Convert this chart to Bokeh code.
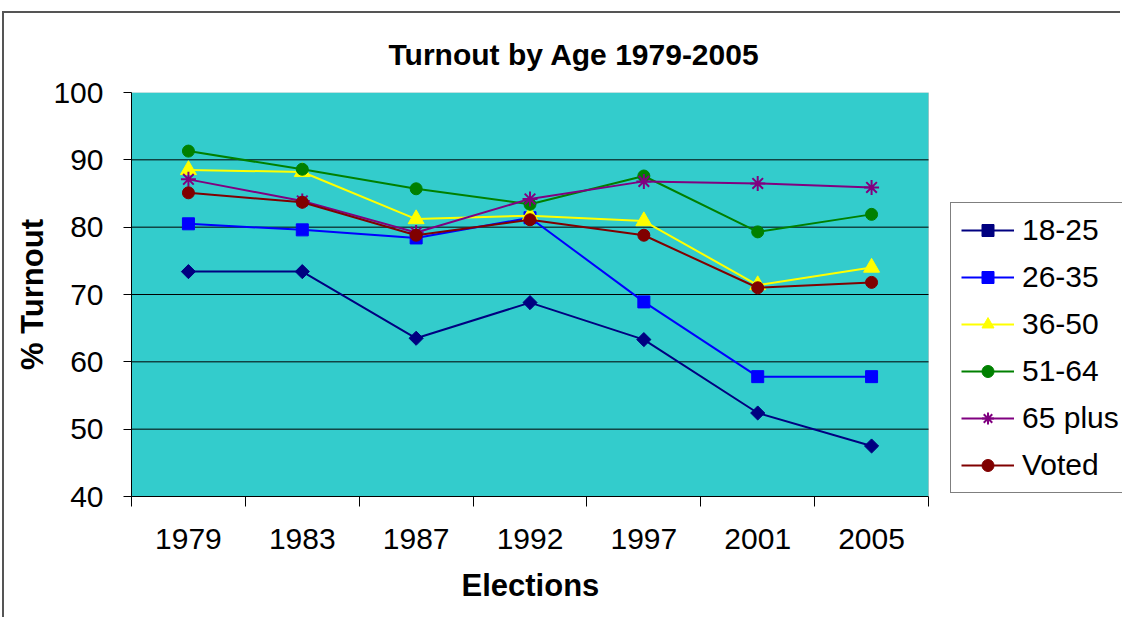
import math
from bokeh.plotting import figure
from bokeh.models import ColumnDataSource, FixedTicker, Legend, LegendItem, BoxAnnotation, Title
from bokeh.embed import file_html
from bokeh.resources import INLINE

years = ["1979", "1983", "1987", "1992", "1997", "2001", "2005"]
age_18_25 = [73.4, 73.4, 63.5, 68.8, 63.3, 52.4, 47.5]
age_26_35 = [80.5, 79.6, 78.4, 81.4, 68.9, 57.8, 57.8]
age_36_50 = [88.5, 88.2, 81.2, 81.7, 80.9, 71.4, 74.0]
age_51_64 = [91.3, 88.6, 85.7, 83.4, 87.6, 79.3, 81.9]
age_65_plus = [87.1, 83.9, 79.2, 84.2, 86.8, 86.5, 85.9]
voted = [85.1, 83.7, 78.8, 81.1, 78.8, 71.0, 71.8]
y_ticks = [40, 50, 60, 70, 80, 90, 100]

# name, values, colour, marker, size, angle
series = [
    ("18-25", age_18_25, "#000080", "square", 10, math.pi / 4),
    ("26-35", age_26_35, "#0000FF", "square", 12, 0),
    ("36-50", age_36_50, "#FFFF00", "triangle", 16, 0),
    ("51-64", age_51_64, "#008000", "circle", 12, 0),
    ("65 plus", age_65_plus, "#800080", "asterisk", 15, 0),
    ("Voted", voted, "#800000", "circle", 12, 0),
]

n = len(years)
xpos = [i + 0.5 for i in range(n)]
FONT = "Liberation Sans"

# layout (pixels)
W, H = 1118, 606
LEFT, TOP, BOTTOM = 127, 79, 123
PLOT_W = 797          # width of the coloured plot area
frame_w = W - LEFT
x_end = n * frame_w / PLOT_W

p = figure(width=W, height=H, x_range=(0, x_end), y_range=(y_ticks[0], y_ticks[-1]),
           output_backend="svg", toolbar_location=None,
           min_border_left=LEFT, min_border_right=0, min_border_top=TOP, min_border_bottom=BOTTOM,
           title="Turnout by Age 1979-2005")
p.styles = {"border-top": "2px solid #555555", "border-left": "2px solid #555555",
            "margin-top": "11px", "margin-left": "2px"}

p.background_fill_color = "white"
p.border_fill_color = "white"
p.outline_line_color = None

# coloured plot area
p.add_layout(BoxAnnotation(left=0, right=n, bottom=y_ticks[0], top=y_ticks[-1],
                           fill_color="#33CCCC", fill_alpha=1,
                           line_color="#808080", line_width=1, level="image"))

p.title.text_font = FONT
p.title.text_font_size = "30px"
p.title.text_font_style = "bold"
p.title.align = "left"
p.title.offset = 257
p.title.text_color = "black"
p.title.standoff = 43

# axes
xa = p.xaxis[0]
xa.bounds = (0, n)
xa.ticker = FixedTicker(ticks=xpos, minor_ticks=list(range(n + 1)))
xa.major_label_overrides = {x: y for x, y in zip(xpos, years)}
xa.major_tick_out = 0
xa.major_tick_in = 0
xa.minor_tick_out = 10
xa.minor_tick_in = 0
xa.minor_tick_line_color = "black"
xa.major_label_text_font = FONT
xa.major_label_text_font_size = "30px"
xa.major_label_text_color = "black"
xa.major_label_standoff = 22
xa.axis_line_color = "black"

xtitle = Title(text="Elections", align="left", offset=330, standoff=28,
               text_font=FONT, text_font_size="31px", text_font_style="bold",
               text_color="black")
p.add_layout(xtitle, "below")

ya = p.yaxis[0]
ya.ticker = FixedTicker(ticks=y_ticks, minor_ticks=[])
ya.major_tick_out = 8
ya.major_tick_in = 0
ya.major_label_text_font = FONT
ya.major_label_text_font_size = "30px"
ya.major_label_text_color = "black"
ya.major_label_standoff = 20
ya.axis_label = "% Turnout"
ya.axis_label_text_font = FONT
ya.axis_label_text_font_size = "31px"
ya.axis_label_text_font_style = "bold"
ya.axis_label_text_color = "black"
ya.axis_label_standoff = 0
ya.axis_line_color = "black"

p.xgrid.grid_line_color = None
p.ygrid.grid_line_color = None

# horizontal grid lines limited to the plot area
inner = y_ticks[1:-1]
p.segment(x0=[0] * len(inner), x1=[n] * len(inner), y0=inner, y1=inner,
          line_color="black", line_width=1)

items = []
for name, vals, color, marker, size, angle in series:
    src = ColumnDataSource(dict(x=xpos, y=vals))
    ln = p.line("x", "y", source=src, line_color=color, line_width=2)
    if marker == "asterisk":
        mk = p.scatter("x", "y", source=src, marker=marker, size=size,
                       line_color=color, line_width=2)
    else:
        mk = p.scatter("x", "y", source=src, marker=marker, size=size, angle=angle,
                       fill_color=color, line_color=color)
    items.append(LegendItem(label=name, renderers=[ln, mk]))

legend = Legend(items=items, location=(819, 3))
legend.label_text_font = FONT
legend.label_text_font_size = "30px"
legend.label_text_color = "black"
legend.glyph_width = 53
legend.glyph_height = 30
legend.label_height = 30
legend.spacing = 13
legend.padding = 10
legend.margin = 0
legend.label_standoff = 8
legend.border_line_color = "black"
legend.border_line_width = 1
legend.background_fill_color = "white"
legend.background_fill_alpha = 1
p.add_layout(legend, "center")

open("out.html", "w").write(file_html(p, INLINE))
